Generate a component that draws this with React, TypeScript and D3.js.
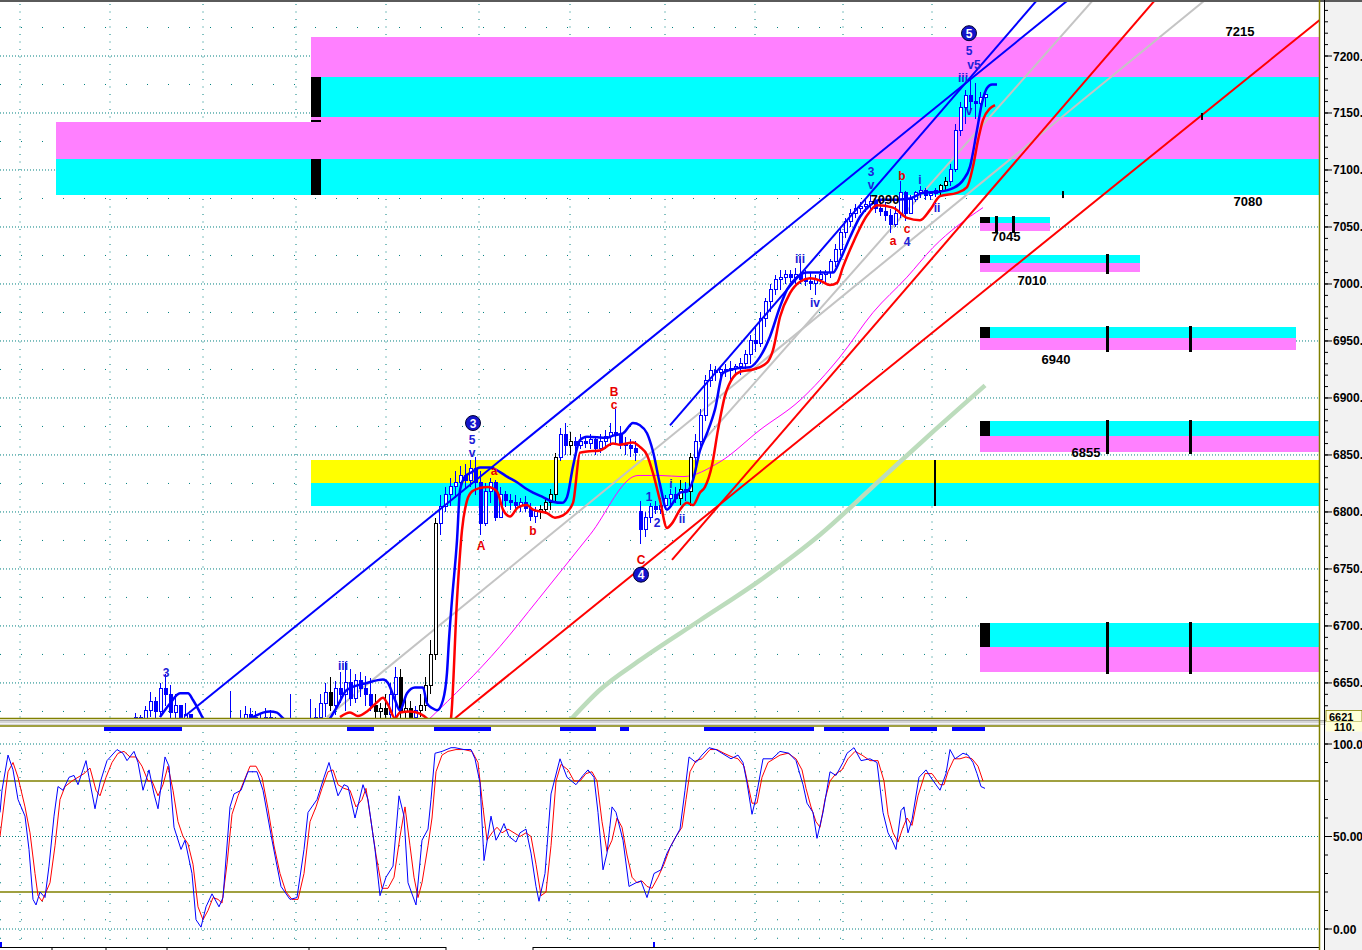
import * as d3 from "d3";

const W = 1362;
const H = 950;
const PLOT_R = 1320;

// 5-minute bars, time in minutes from session start
const barStart = 130;
const barStep = 5;

const opens = [
  6604, 6608, 6620, 6615, 6626, 6634, 6625, 6645, 6640, 6624,
  6630, 6612, 6622, 6605, 6598, 6595, 6590, 6588, 6594, 6596,
  6600, 6606, 6604, 6618, 6622, 6620, 6616, 6612, 6620, 6614,
  6605, 6600, 6596, 6602, 6598, 6596, 6608, 6612, 6620, 6632,
  6642, 6630, 6645, 6640, 6650, 6636, 6652, 6645, 6640, 6630,
  6625, 6628, 6622, 6640, 6655, 6625, 6628, 6620, 6626, 6630,
  6648, 6675, 6790, 6805, 6815, 6822, 6826, 6832, 6828, 6838,
  6826, 6790, 6818, 6826, 6795, 6815, 6810, 6808, 6806, 6808,
  6803, 6796, 6800, 6802, 6808, 6815, 6848, 6868, 6858, 6862,
  6858, 6862, 6860, 6864, 6856, 6862, 6866, 6870, 6868, 6860,
  6858, 6856, 6800, 6785, 6795, 6805, 6802, 6806, 6812, 6815,
  6812, 6820, 6818, 6848, 6862, 6885, 6915, 6924, 6922, 6925,
  6924, 6926, 6928, 6930, 6938, 6950, 6948, 6970, 6985, 6995,
  7004, 7006, 7008, 7006, 7008, 7004, 7002, 7000, 7004, 7008,
  7010, 7020, 7030, 7045, 7055, 7062, 7066, 7068, 7070, 7072,
  7066, 7064, 7060, 7052, 7062, 7080, 7062, 7074, 7080, 7082,
  7078, 7079, 7082, 7086, 7090, 7100, 7135, 7155, 7165, 7160,
  7158, 7164,
];
const highs = [
  6612, 6624, 6622, 6630, 6642, 6638, 6650, 6658, 6648, 6640,
  6628, 6632, 6618, 6610, 6605, 6602, 6598, 6600, 6604, 6608,
  6643, 6612, 6626, 6630, 6628, 6625, 6624, 6628, 6626, 6620,
  6612, 6606, 6640, 6606, 6604, 6618, 6636, 6628, 6640, 6650,
  6655, 6652, 6660, 6668, 6662, 6658, 6660, 6656, 6654, 6640,
  6632, 6640, 6650, 6664, 6662, 6640, 6634, 6630, 6640, 6655,
  6688, 6795, 6815, 6822, 6830, 6836, 6840, 6842, 6846, 6848,
  6836, 6825, 6830, 6828, 6822, 6818, 6816, 6815, 6812, 6814,
  6808, 6804, 6806, 6812, 6820, 6852, 6874, 6878, 6870, 6866,
  6868, 6866, 6868, 6866, 6868, 6872, 6878, 6890, 6875, 6866,
  6864, 6862, 6810, 6800, 6808, 6810, 6812, 6815, 6820, 6822,
  6828, 6826, 6852, 6868, 6890, 6920, 6930, 6928, 6928, 6930,
  6932, 6930, 6935, 6942, 6955, 6962, 6975, 6988, 7000, 7008,
  7012, 7012, 7012, 7014, 7022, 7012, 7010, 7008, 7012, 7012,
  7022, 7035, 7048, 7058, 7066, 7070, 7072, 7074, 7078, 7075,
  7074, 7072, 7066, 7068, 7090, 7082, 7078, 7082, 7086, 7084,
  7082, 7084, 7088, 7094, 7105, 7140, 7160, 7170, 7182, 7176,
  7168, 7170,
];
const lows = [
  6600, 6605, 6610, 6612, 6620, 6618, 6622, 6630, 6618, 6612,
  6605, 6606, 6598, 6592, 6588, 6585, 6582, 6584, 6588, 6590,
  6598, 6596, 6602, 6610, 6612, 6608, 6606, 6608, 6610, 6600,
  6596, 6590, 6594, 6590, 6588, 6594, 6600, 6606, 6615, 6620,
  6625, 6622, 6632, 6625, 6630, 6632, 6638, 6630, 6625, 6615,
  6612, 6615, 6618, 6620, 6612, 6610, 6612, 6612, 6620, 6625,
  6640, 6670, 6780, 6800, 6805, 6812, 6815, 6820, 6822, 6815,
  6780, 6788, 6808, 6792, 6795, 6804, 6802, 6800, 6800, 6800,
  6792, 6790, 6794, 6798, 6802, 6810, 6845, 6850, 6850, 6852,
  6855, 6856, 6855, 6850, 6852, 6855, 6858, 6860, 6855, 6850,
  6848, 6845, 6772, 6778, 6790, 6798, 6798, 6802, 6806, 6808,
  6806, 6810, 6805, 6840, 6858, 6880, 6910, 6915, 6916, 6918,
  6916, 6920, 6920, 6925, 6930, 6940, 6945, 6962, 6975, 6990,
  6995, 7000, 7002, 7000, 7000, 6998, 6995, 6990, 7000, 7002,
  7005, 7015, 7025, 7040, 7050, 7058, 7062, 7063, 7064, 7062,
  7060, 7055, 7045, 7050, 7058, 7055, 7062, 7072, 7075, 7074,
  7074, 7076, 7078, 7082, 7086, 7098, 7130, 7140, 7150, 7145,
  7150, 7155,
];
const closes = [
  6608, 6620, 6615, 6626, 6634, 6625, 6645, 6640, 6624, 6630,
  6612, 6622, 6605, 6598, 6595, 6590, 6588, 6594, 6596, 6600,
  6606, 6604, 6618, 6622, 6620, 6616, 6612, 6620, 6614, 6605,
  6600, 6596, 6602, 6598, 6596, 6608, 6612, 6620, 6632, 6642,
  6630, 6645, 6640, 6650, 6636, 6652, 6645, 6640, 6630, 6625,
  6628, 6622, 6640, 6655, 6625, 6628, 6620, 6626, 6630, 6648,
  6675, 6790, 6805, 6815, 6822, 6826, 6832, 6828, 6838, 6826,
  6790, 6818, 6826, 6795, 6815, 6810, 6808, 6806, 6808, 6803,
  6796, 6800, 6802, 6808, 6815, 6848, 6868, 6858, 6862, 6858,
  6862, 6860, 6864, 6856, 6862, 6866, 6870, 6868, 6860, 6858,
  6856, 6852, 6785, 6795, 6805, 6802, 6806, 6812, 6815, 6812,
  6820, 6818, 6848, 6862, 6885, 6915, 6924, 6922, 6925, 6924,
  6926, 6928, 6930, 6938, 6950, 6948, 6970, 6985, 6995, 7004,
  7006, 7008, 7006, 7008, 7004, 7002, 7000, 7004, 7008, 7010,
  7020, 7030, 7045, 7055, 7062, 7066, 7068, 7070, 7072, 7066,
  7064, 7060, 7052, 7062, 7080, 7062, 7074, 7080, 7082, 7078,
  7079, 7082, 7086, 7090, 7100, 7135, 7155, 7165, 7160, 7158,
  7164, 7166,
];
// bars painted black by the trend filter
const blackBars = [40, 49, 50, 51, 54, 55, 56, 58, 59, 60, 61, 82, 83, 84, 85, 88, 110, 112, 162, 163];

// channel bands [minute, price]
const upperBand: [number, number][] = [
  [160, 6620], [170, 6632], [180, 6641], [188, 6641], [193, 6635], [200, 6624], [203, 6619],
  [225, 6605], [253, 6620], [263, 6624], [270, 6625], [277, 6624], [283, 6619], [305, 6605],
  [330, 6619], [337, 6629], [347, 6644], [367, 6650], [383, 6653], [388, 6650], [395, 6635],
  [400, 6626], [407, 6641], [415, 6646], [423, 6646], [427, 6632], [432, 6628], [437, 6626],
  [443, 6635], [447, 6659], [449, 6688], [452, 6723], [457, 6775], [460, 6819], [465, 6831],
  [472, 6835], [480, 6839], [490, 6839], [500, 6835], [507, 6831], [517, 6826], [525, 6821],
  [533, 6817], [543, 6813], [553, 6809], [562, 6808], [567, 6813], [573, 6840], [580, 6863],
  [587, 6866], [607, 6865], [613, 6867], [623, 6869], [633, 6878], [640, 6876], [647, 6869],
  [653, 6853], [660, 6824], [667, 6802], [673, 6808], [680, 6817], [687, 6818], [693, 6828],
  [700, 6854], [707, 6869], [715, 6890], [723, 6922], [737, 6926], [750, 6927], [760, 6936],
  [770, 6954], [780, 6980], [787, 6995], [797, 7006], [807, 7010], [820, 7010], [833, 7010],
  [840, 7021], [850, 7041], [860, 7059], [870, 7069], [880, 7074], [897, 7074], [910, 7075],
  [923, 7080], [940, 7081], [953, 7084], [963, 7091], [970, 7103], [977, 7135], [982, 7159],
  [987, 7172], [992, 7175], [997, 7175],
];
const lowerBand: [number, number][] = [
  [340, 6620], [350, 6624], [358, 6621], [367, 6625], [377, 6633], [383, 6637], [388, 6631],
  [395, 6619], [400, 6624], [410, 6625], [420, 6623], [428, 6618], [445, 6600], [451, 6619],
  [457, 6723], [462, 6784], [467, 6810], [472, 6818], [480, 6821], [488, 6822], [497, 6818],
  [503, 6802], [510, 6796], [518, 6804], [527, 6806], [533, 6802], [547, 6799], [555, 6795],
  [563, 6797], [573, 6808], [580, 6852], [587, 6853], [600, 6854], [613, 6860], [620, 6859],
  [633, 6861], [640, 6857], [647, 6850], [653, 6834], [660, 6810], [667, 6786], [672, 6790],
  [680, 6802], [687, 6808], [693, 6806], [700, 6817], [705, 6822], [712, 6841], [718, 6872],
  [725, 6902], [733, 6918], [740, 6923], [753, 6925], [767, 6931], [773, 6942], [780, 6971],
  [790, 6992], [800, 7002], [810, 7005], [820, 7003], [830, 6999], [837, 7001], [843, 7015],
  [853, 7036], [867, 7060], [877, 7069], [893, 7067], [907, 7058], [920, 7056], [930, 7065],
  [940, 7077], [957, 7080], [967, 7085], [973, 7103], [978, 7126], [983, 7144], [990, 7154],
  [995, 7157],
];
const maShort: [number, number][] = [
  [430, 6619], [500, 6682], [538, 6723], [590, 6780], [638, 6832], [660, 6832], [683, 6831],
  [720, 6844], [760, 6872], [800, 6898], [840, 6936], [873, 6975], [907, 7006], [933, 7032],
  [983, 7067],
];
const maLong: [number, number][] = [
  [572, 6619], [600, 6644], [640, 6670], [700, 6705], [760, 6740], [820, 6780], [880, 6828],
  [935, 6872], [985, 6911],
];

// straight trend lines [t0, p0, t1, p1]
const blueTrends = [
  [185, 6621, 1068, 7249],
  [670, 6876, 1037, 7249],
];
const grayTrends = [
  [327, 6620, 1205, 7249],
  [700, 6859, 1093, 7249],
];
const redTrends = [
  [455, 6619, 1323, 7234],
  [672, 6758, 1155, 7249],
];

// target zones: [t0, t1, top, mid, bottom, upper colour, lower colour]
const bigZones: [number, number, number, number, number, string, string][] = [
  [311, 1320, 7217, 7182, 7146.5, "#ff80ff", "#00ffff"],
  [311, 1320, 7146.5, 7110, 7078, "#ff80ff", "#00ffff"],
  [56, 311, 7142, 7110, 7078, "#ff80ff", "#00ffff"],
  [311, 1320, 6846, 6825.4, 6805, "#ffff00", "#00ffff"],
];
const zoneMarkers: [number, number, number][] = [
  [311, 7182, 7146.5],
  [311, 7144, 7142.5],
  [311, 7110, 7078],
];
const smallZones: [number, number, number, number][] = [
  [1050, 7059, 7053.5, 7046.5],
  [1140, 7025.4, 7018.4, 7010.5],
  [1296, 6962.3, 6952.6, 6942.1],
  [1320, 6879.8, 6866.7, 6852.6],
  [1320, 6702.6, 6681.6, 6659.6],
];
const smallZoneStart = 980;
const smallZoneTicks = [[996, 1013], [1107], [1107, 1190], [1107, 1190], [1107, 1190]];
const zoneTick6850 = 935;

const levelLabels: [string, number, number][] = [
  ["7215", 1240, 7217.5],
  ["7080", 1248, 7068.4],
  ["7045", 1006, 7037.7],
  ["7010", 1032, 6999],
  ["6940", 1056, 6929.8],
  ["6855", 1086, 6848.2],
  ["7090", 885, 7070],
];
const lineMarks: [number, number][] = [[1202, 7146.5], [1063, 7078]];

const waveCircles: [string, number, number][] = [
  ["3", 473, 6878],
  ["4", 641, 6745],
  ["5", 969, 7220],
];
const blueWaves: [string, number, number][] = [
  ["3", 166, 6655], ["iii", 343, 6661], ["5", 472, 6860], ["v", 472, 6848],
  ["3", 871, 7095], ["v", 871, 7083], ["iii", 800, 7018], ["iv", 815, 6980],
  ["i", 920, 7088], ["ii", 937, 7063], ["4", 907, 7033], ["1", 649, 6810],
  ["2", 657, 6787], ["i", 671, 6821], ["ii", 682, 6790], ["5", 969, 7201],
  ["v5", 974, 7189], ["iii", 963, 7177], ["v", 969, 7148],
];
const redWaves: [string, number, number][] = [
  ["A", 481, 6767], ["b", 533, 6780], ["B", 614, 6902], ["c", 614, 6890],
  ["C", 641, 6754], ["b", 902, 7091], ["a", 893, 7034], ["c", 907, 7045], ["a", 494, 6832],
];

// stochastic %K and %D [minute, value]
const stochK: [number, number][] = [
  [0, 63], [2, 75], [8, 94], [13, 86], [18, 70], [25, 61], [29, 43], [33, 16], [36, 13], [40, 20],
  [45, 17], [49, 34], [54, 61], [58, 77], [63, 75], [69, 82], [74, 83], [78, 78], [86, 91], [89, 82],
  [95, 65], [100, 79], [107, 91], [117, 97], [123, 95], [127, 91], [134, 96], [138, 90], [143, 75],
  [149, 86], [154, 73], [158, 65], [165, 93], [169, 88], [174, 55], [181, 43], [185, 48], [192, 30],
  [196, 5], [201, 1], [206, 12], [212, 19], [219, 12], [223, 17], [230, 66], [234, 73], [241, 75],
  [248, 85], [257, 85], [263, 75], [272, 48], [281, 23], [290, 16], [297, 17], [304, 43], [308, 63],
  [317, 70], [324, 82], [329, 90], [334, 80], [338, 72], [344, 78], [348, 77], [355, 60], [363, 78],
  [368, 70], [375, 43], [380, 18], [386, 28], [393, 34], [399, 72], [404, 61], [408, 25], [416, 13],
  [422, 48], [428, 54], [431, 70], [435, 95], [442, 96], [451, 98], [455, 98], [464, 97], [471, 97],
  [475, 92], [480, 79], [484, 37], [491, 61], [496, 48], [500, 52], [504, 57], [509, 50], [516, 47],
  [520, 52], [526, 54], [531, 41], [536, 23], [539, 15], [545, 30], [551, 73], [560, 92], [567, 82],
  [576, 78], [583, 83], [588, 86], [594, 82], [598, 63], [603, 32], [607, 41], [612, 66], [616, 63],
  [623, 48], [629, 23], [636, 25], [641, 26], [647, 17], [654, 30], [661, 32], [667, 41], [673, 47],
  [680, 54], [685, 75], [689, 93], [696, 90], [702, 94], [709, 98], [716, 97], [722, 95], [731, 92],
  [738, 94], [743, 90], [747, 79], [752, 62], [756, 71], [763, 92], [772, 92], [780, 96], [789, 95],
  [796, 91], [803, 78], [807, 68], [813, 63], [817, 49], [823, 63], [830, 85], [836, 83], [843, 90],
  [847, 95], [854, 98], [861, 91], [870, 92], [877, 90], [883, 63], [888, 52], [892, 48], [896, 43],
  [901, 64], [904, 66], [908, 52], [912, 59], [919, 82], [926, 86], [932, 81], [940, 75], [946, 84],
  [950, 97], [955, 92], [963, 95], [968, 94], [973, 90], [977, 84], [981, 77], [985, 76],
];
const stochD: [number, number][] = [
  [0, 50], [8, 85], [13, 90], [18, 82], [25, 66], [30, 52], [35, 30], [38, 18], [42, 15], [46, 20],
  [50, 25], [55, 45], [60, 70], [65, 77], [72, 80], [78, 82], [84, 84], [90, 87], [96, 75], [100, 72],
  [106, 82], [112, 90], [118, 95], [124, 96], [130, 93], [136, 93], [142, 88], [148, 80], [152, 80],
  [158, 72], [163, 78], [168, 88], [173, 75], [178, 58], [183, 50], [188, 46], [193, 35], [198, 12],
  [203, 5], [208, 10], [213, 17], [218, 16], [222, 14], [227, 35], [232, 62], [238, 72], [244, 80],
  [250, 88], [256, 88], [262, 82], [268, 65], [274, 45], [280, 30], [286, 20], [292, 16], [298, 16],
  [304, 30], [310, 58], [316, 66], [322, 76], [328, 85], [333, 86], [338, 78], [344, 76], [350, 75],
  [356, 66], [362, 70], [366, 76], [370, 62], [376, 40], [382, 22], [388, 22], [394, 28], [400, 50],
  [405, 66], [410, 45], [414, 28], [418, 17], [422, 25], [428, 45], [432, 60], [436, 85], [442, 94],
  [448, 96], [456, 97], [464, 97], [472, 96], [478, 90], [482, 70], [487, 48], [492, 52], [497, 55],
  [502, 52], [508, 54], [514, 52], [520, 50], [526, 52], [531, 50], [536, 35], [541, 18], [546, 20],
  [551, 45], [556, 80], [561, 89], [568, 86], [574, 80], [580, 80], [586, 84], [592, 85], [597, 80],
  [602, 58], [607, 42], [612, 48], [617, 60], [622, 55], [627, 40], [632, 28], [637, 25], [642, 26],
  [647, 23], [652, 22], [658, 28], [664, 35], [670, 44], [676, 50], [682, 55], [686, 70], [690, 85],
  [696, 91], [702, 92], [710, 97], [717, 97], [724, 95], [732, 93], [738, 92], [744, 88], [748, 78],
  [752, 68], [757, 68], [762, 82], [768, 90], [774, 92], [780, 94], [788, 95], [796, 92], [802, 86],
  [806, 76], [811, 66], [816, 58], [820, 55], [825, 70], [830, 80], [836, 84], [842, 86], [848, 92],
  [855, 96], [862, 94], [870, 91], [878, 91], [884, 80], [888, 62], [893, 52], [898, 47], [903, 55],
  [907, 60], [912, 56], [918, 72], [925, 84], [932, 84], [940, 78], [944, 78], [948, 85], [954, 92],
  [960, 92], [966, 93], [972, 92], [978, 88], [983, 80],
];

// signal periods shown as blue strips between the panes
const signalStrips = [[104, 182], [347, 374], [434, 491], [560, 596], [620, 629], [704, 814], [824, 889], [910, 937], [952, 985]];
const gridTimes = [20, 110, 203, 296, 386, 479, 570, 665, 755, 843, 932];
const dayTicks = [52, 106, 167, 309, 446, 533];
const bottomMarks = [1, 654];
const lastPrice = 6621;

const FONT = "'Liberation Sans', Arial, sans-serif";
const OLIVE = "#808000";
const TEAL = "#008080";

export default function App() {
  const x = d3.scaleLinear().domain([0, PLOT_R]).range([0, PLOT_R]);
  const y = d3.scaleLinear().domain([6621, 7200]).range([716, 56]);
  const ys = d3.scaleLinear().domain([0, 100]).range([929, 744]);

  const bandLine = d3.line<[number, number]>().x(d => x(d[0])).y(d => y(d[1])).curve(d3.curveMonotoneX);
  const stochLine = d3.line<[number, number]>().x(d => x(d[0])).y(d => ys(d[1]));

  const bars = closes.map((c, i) => ({
    t: barStart + i * barStep,
    o: opens[i], h: highs[i], l: lows[i], c,
    color: blackBars.includes(i) ? "#000000" : "#0000ff",
  }));

  const majorTicks = d3.range(6650, 7201, 50);
  const minorTicks = d3.range(6630, 7241, 10);
  const lowMajor = [0, 50, 100];
  const lowMinor = d3.range(-10, 111, 10);

  const trend = (arr: number[][], color: string, w: number) =>
    arr.map((d, i) => (
      <line key={color + i} x1={x(d[0])} y1={y(d[1])} x2={x(d[2])} y2={y(d[3])} stroke={color} strokeWidth={w} />
    ));

  return (
    <div style={{ position: "absolute", left: 0, top: 0 }}>
      <svg width={W} height={H} style={{ display: "block", background: "#ffffff" }} fontFamily={FONT}>
        <defs>
          <clipPath id="mainClip"><rect x={0} y={2} width={PLOT_R} height={716} /></clipPath>
          <clipPath id="lowClip"><rect x={0} y={727} width={PLOT_R} height={219} /></clipPath>
        </defs>

        {/* right axis strip */}
        <rect x={1325} y={0} width={W - 1325} height={H} fill="#f2f2f2" />
        <line x1={0} y1={1} x2={W} y2={1} stroke="#5a5a5a" strokeWidth={2} />

        {/* main grid */}
        <g clipPath="url(#mainClip)">
          {majorTicks.concat([7250]).map(v => (
            <line key={"h" + v} x1={0} x2={PLOT_R} y1={y(v)} y2={y(v)} stroke={TEAL} strokeDasharray="1,2" />
          ))}
          {d3.range(6625, 7226, 50).map(v => (
            <line key={"hs" + v} x1={0} x2={x(985)} y1={y(v)} y2={y(v)} stroke={TEAL} strokeDasharray="1,20" />
          ))}
          {gridTimes.map(t => (
            <line key={"v" + t} x1={x(t)} x2={x(t)} y1={4} y2={718} stroke={TEAL} strokeDasharray="1,6.5" />
          ))}
        </g>

        {/* zones */}
        <g clipPath="url(#mainClip)" shapeRendering="crispEdges">
          {bigZones.map((z, i) => (
            <g key={"z" + i}>
              <rect x={x(z[0])} width={x(z[1]) - x(z[0])} y={y(z[2])} height={y(z[3]) - y(z[2])} fill={z[5]} />
              <rect x={x(z[0])} width={x(z[1]) - x(z[0])} y={y(z[3])} height={y(z[4]) - y(z[3])} fill={z[6]} />
            </g>
          ))}
          {zoneMarkers.map((m, i) => (
            <rect key={"zm" + i} x={x(m[0])} width={10} y={y(m[1])} height={y(m[2]) - y(m[1])} fill="#000" />
          ))}
          <rect x={x(zoneTick6850) - 1} width={2} y={y(6846)} height={y(6805) - y(6846)} fill="#000" />
          {smallZones.map((z, i) => (
            <g key={"sz" + i}>
              <rect x={x(smallZoneStart)} width={x(z[0]) - x(smallZoneStart)} y={y(z[1])} height={y(z[2]) - y(z[1])} fill="#00ffff" />
              <rect x={x(smallZoneStart)} width={x(z[0]) - x(smallZoneStart)} y={y(z[2])} height={y(z[3]) - y(z[2])} fill="#ff80ff" />
              <rect x={x(smallZoneStart)} width={10} y={y(z[1])} height={y(z[2]) - y(z[1])} fill="#000" />
              {smallZoneTicks[i].map(t => (
                <rect key={t} x={x(t) - 1} width={2.5} y={y(z[1]) - 1} height={y(z[3]) - y(z[1]) + 3} fill="#000" />
              ))}
            </g>
          ))}
        </g>

        {/* indicator lines */}
        <g clipPath="url(#mainClip)" fill="none">
          <path d={bandLine(maLong) || ""} stroke="#bcdcbc" strokeWidth={4.5} />
          <path d={bandLine(maShort) || ""} stroke="#ff00ff" strokeWidth={1} />
          {trend(grayTrends, "#c4c4c4", 2)}
        </g>

        {/* candles */}
        <g clipPath="url(#mainClip)" shapeRendering="crispEdges">
          {bars.map((b, i) => {
            const cx = Math.round(x(b.t)) + 0.5;
            const top = y(Math.max(b.o, b.c));
            const bot = y(Math.min(b.o, b.c));
            const up = b.c >= b.o;
            return (
              <g key={"b" + i}>
                <line x1={cx} x2={cx} y1={y(b.h)} y2={y(b.l)} stroke={b.color} strokeWidth={1} />
                <rect x={cx - 1.5} y={top} width={3} height={Math.max(1, bot - top)}
                  fill={up ? "#ffffff" : b.color} stroke={b.color} strokeWidth={1} />
              </g>
            );
          })}
        </g>

        <g clipPath="url(#mainClip)" fill="none">
          <path d={bandLine(upperBand) || ""} stroke="#0000ff" strokeWidth={2.5} />
          <path d={bandLine(lowerBand) || ""} stroke="#ff0000" strokeWidth={2.5} />
          {trend(blueTrends, "#0000ff", 2)}
          {trend(redTrends, "#ff0000", 2)}
          {lineMarks.map((m, i) => (
            <rect key={"lm" + i} x={x(m[0]) - 1} y={y(m[1]) - 4} width={2} height={7} fill="#000" />
          ))}
        </g>

        {/* labels */}
        <g fontWeight="bold" fontSize={13}>
          {levelLabels.map((l, i) => (
            <text key={"ll" + i} x={x(l[1])} y={y(l[2])} textAnchor="middle" fill="#000">{l[0]}</text>
          ))}
        </g>
        <g fontWeight="bold" fontSize={12} textAnchor="middle">
          {blueWaves.map((w, i) => (
            <text key={"bw" + i} x={x(w[1])} y={y(w[2])} fill="#2020d8">{w[0]}</text>
          ))}
          {redWaves.map((w, i) => (
            <text key={"rw" + i} x={x(w[1])} y={y(w[2])} fill="#e80000">{w[0]}</text>
          ))}
          {waveCircles.map((c, i) => (
            <g key={"wc" + i}>
              <circle cx={x(c[1])} cy={y(c[2])} r={7.5} fill="#1414cc" stroke="#000033" strokeWidth={1} />
              <text x={x(c[1])} y={y(c[2]) + 4.5} fill="#ffffff" fontSize={12}>{c[0]}</text>
            </g>
          ))}
        </g>

        {/* pane separator */}
        <line x1={0} x2={PLOT_R} y1={718.5} y2={718.5} stroke={OLIVE} strokeWidth={1.5} />
        <rect x={0} y={720} width={W} height={5} fill="#d6d6d6" />
        <line x1={0} x2={W} y1={720.5} y2={720.5} stroke="#a8a8a8" />
        <line x1={0} x2={W} y1={723.5} y2={723.5} stroke="#f4f4f4" />
        <line x1={0} x2={PLOT_R} y1={726} y2={726} stroke={OLIVE} strokeWidth={1.5} />
        {signalStrips.map((s, i) => (
          <rect key={"ss" + i} x={x(s[0])} y={727} width={x(s[1]) - x(s[0])} height={4} fill="#0000ff" />
        ))}

        {/* lower pane grid */}
        <g clipPath="url(#lowClip)">
          {lowMajor.map(v => (
            <line key={"lh" + v} x1={0} x2={PLOT_R} y1={ys(v)} y2={ys(v)} stroke={TEAL} strokeDasharray="1,2" />
          ))}
          {d3.range(-5, 96, 10).map(v => (
            <line key={"ls" + v} x1={0} x2={x(985)} y1={ys(v)} y2={ys(v)} stroke={TEAL} strokeDasharray="1,20" />
          ))}
          {gridTimes.map(t => (
            <line key={"lv" + t} x1={x(t)} x2={x(t)} y1={732} y2={944} stroke={TEAL} strokeDasharray="1,8" />
          ))}
          {[80, 20].map(v => (
            <line key={"ol" + v} x1={0} x2={PLOT_R} y1={ys(v)} y2={ys(v)} stroke={OLIVE} strokeWidth={1.5} />
          ))}
          <path d={stochLine(stochD) || ""} fill="none" stroke="#ff0000" strokeWidth={1} />
          <path d={stochLine(stochK) || ""} fill="none" stroke="#0000ff" strokeWidth={1} />
        </g>

        {/* bottom strip */}
        <line x1={0} x2={x(446)} y1={947.5} y2={947.5} stroke="#000" />
        <line x1={x(533)} x2={PLOT_R} y1={947.5} y2={947.5} stroke="#000" />
        {dayTicks.map(t => (
          <line key={"dt" + t} x1={x(t)} x2={x(t)} y1={947} y2={950} stroke="#000" />
        ))}
        {bottomMarks.map(t => (
          <rect key={"bm" + t} x={x(t) - 1} y={942} width={2} height={5} fill="#0000ff" />
        ))}

        {/* right axis */}
        <line x1={1319.5} x2={1319.5} y1={0} y2={H} stroke={OLIVE} strokeWidth={1.5} />
        <line x1={1324.5} x2={1324.5} y1={0} y2={H} stroke="#000" />
        <g fontSize={12} fontWeight="bold" fill="#000">
          {minorTicks.map(v => (
            <line key={"mt" + v} x1={1325} x2={1328} y1={y(v)} y2={y(v)} stroke="#000" />
          ))}
          {majorTicks.map(v => (
            <g key={"MT" + v}>
              <line x1={1325} x2={1332} y1={y(v)} y2={y(v)} stroke="#000" />
              <text x={1333} y={y(v) + 4.5}>{`${v}.`}</text>
            </g>
          ))}
          <rect x={1326} y={y(lastPrice) - 5.5} width={36} height={11} fill="#ffffd8" stroke={OLIVE} strokeWidth={0.8} />
          <text x={1329} y={y(lastPrice) + 4.5} fontSize={11}>{lastPrice}</text>
          <rect x={1326} y={ys(110) - 4} width={36} height={10} fill="#ffffd8" />
          <text x={1334} y={ys(110) + 5} fontSize={11}>110.</text>
          {lowMinor.filter(v => v > -8 && v < 108).map(v => (
            <line key={"lmt" + v} x1={1325} x2={1328} y1={ys(v)} y2={ys(v)} stroke="#000" />
          ))}
          {lowMajor.map(v => (
            <g key={"LM" + v}>
              <line x1={1325} x2={1332} y1={ys(v)} y2={ys(v)} stroke="#000" />
              <text x={1333} y={ys(v) + 4.5}>{v === 100 ? "100.0" : v === 50 ? "50.00" : "0.00"}</text>
            </g>
          ))}
        </g>
      </svg>
    </div>
  );
}
